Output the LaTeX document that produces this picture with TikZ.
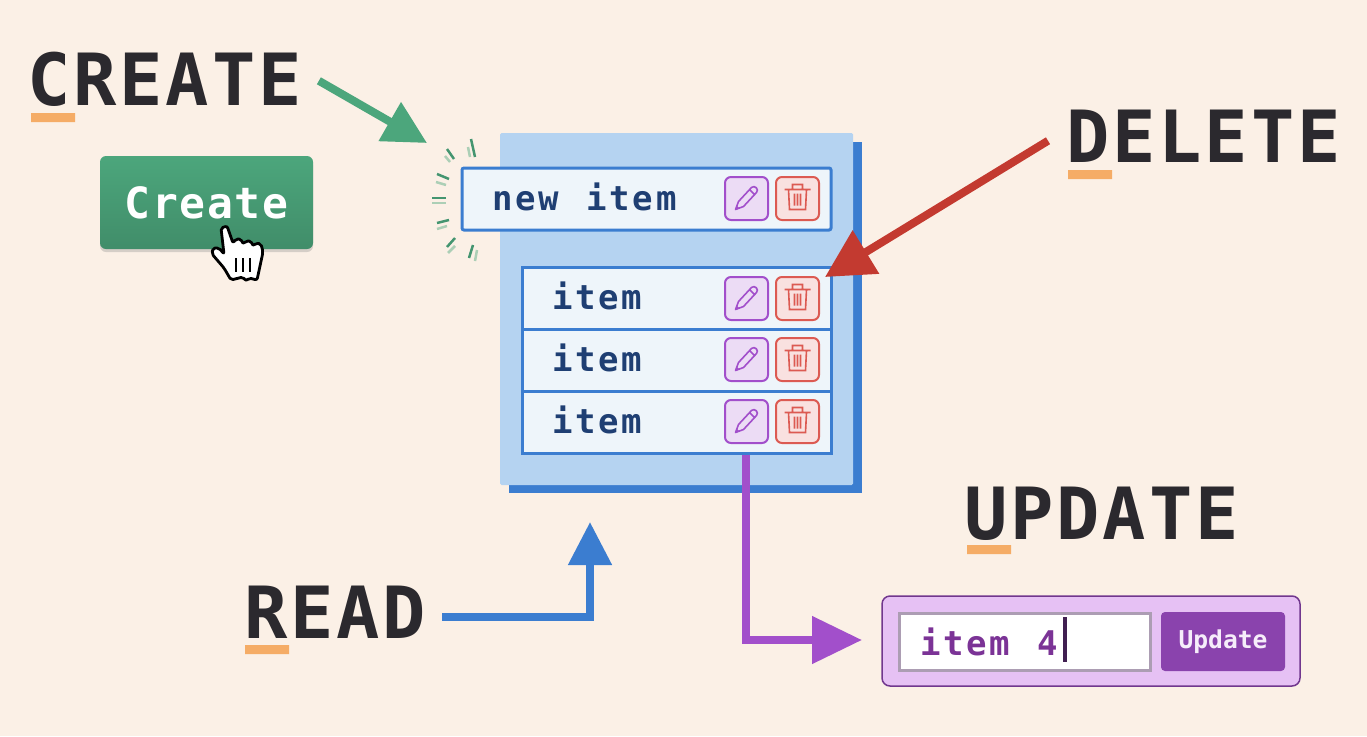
\documentclass[tikz,border=0pt]{standalone}
\usepackage{fontspec}
\usepackage{tikz}
\usetikzlibrary{arrows.meta,shadows}
\setmonofont{DejaVu Sans Mono}
\newfontfamily\headfont[LetterSpace=4]{DejaVu Sans Mono}
\newfontfamily\itemfont[LetterSpace=8.3]{DejaVu Sans Mono}
\newcommand{\fsize}[1]{\fontsize{#1}{#1}\selectfont}
\definecolor{paper}{HTML}{FBF0E6}
\definecolor{ink}{HTML}{2B292E}
\definecolor{barorange}{HTML}{F5AC66}
\definecolor{greenc}{HTML}{4CA67C}
\definecolor{bluec}{HTML}{3B7DD0}
\definecolor{panelc}{HTML}{B5D3F1}
\definecolor{rowc}{HTML}{EEF5FA}
\definecolor{navyc}{HTML}{1F3F73}
\definecolor{purplec}{HTML}{A24FCB}
\definecolor{redc}{HTML}{C33A30}
\definecolor{trashc}{HTML}{DC5A52}
\definecolor{lilacc}{HTML}{E6C1F4}
\definecolor{plumc}{HTML}{7B3396}
\tikzset{
    headlbl/.style={anchor=base west,inner sep=0pt,text=ink,font=\headfont\bfseries\fsize{72}},
    underbar/.style={fill=barorange},
    itemrow/.style={draw=bluec,fill=rowc,line width=3pt,inner ysep=0pt,inner xsep=30pt,
        text width=249pt,text depth=4pt,minimum height=62pt,text=navyc,font=\itemfont\bfseries\fsize{34}},
    thickarrow/.style={line width=8pt},
    pencilicon/.pic={
        \draw[draw=purplec,fill=purplec!20,line width=2pt,rounded corners=6pt] (-21.5,-21.5) rectangle (21.5,21.5);
        \draw[draw=purplec,line width=1.6pt,line join=round] (-11,11) -- (-8,3) -- (5,-11)
            .. controls (8,-14) and (13,-9) .. (10,-6) -- (-3,8) -- cycle (3,-9) -- (8,-4);
        \fill[purplec] (-11,11) -- (-10,7) -- (-7,10) -- cycle;
    },
    trashicon/.pic={
        \draw[draw=trashc,fill=trashc!18,line width=2pt,rounded corners=6pt] (-21.5,-21.5) rectangle (21.5,21.5);
        \draw[draw=trashc,line width=1.6pt] (-13,-9) -- (13,-9) (-5,-9) -- (-5,-14) -- (5,-14) -- (5,-9)
            (-9,-9) -- (-8,11) -- (8,11) -- (9,-9) (-3,-5) -- (-3,7) (0,-5) -- (0,7) (3,-5) -- (3,7);
    },
}
\begin{document}
\begin{tikzpicture}[x=1pt,y=-1pt]
    \useasboundingbox (0,0) rectangle (1367,736);
    \fill[paper] (0,0) rectangle (1367,736);
    \node[headlbl] (createlbl) at (27,105) {CREATE};
    \node[headlbl] (deletelbl) at (1066,162) {DELETE};
    \node[headlbl] (updatelbl) at (964,539) {UPDATE};
    \node[headlbl] (readlbl) at (244,638) {READ};
    \fill[underbar] (31,113) rectangle (75,122) (1068,170) rectangle (1112,179)
    (967,545) rectangle (1011,554) (245,645) rectangle (289,654);
    \node[minimum width=213pt,minimum height=93pt,inner sep=0pt,rounded corners=6pt,
        top color=greenc,bottom color=greenc!85!black,text=white,
        drop shadow={shadow xshift=0pt,shadow yshift=-3pt,opacity=.3},
        font=\headfont\bfseries\fsize{43}] (createbtn) at (206.5,202.5) {Create};
    \draw[black,fill=white,line width=2.8pt,line join=round,rounded corners=2pt]
    (221,228) -- (227,226) -- (233,243) -- (236,239) -- (241,239) -- (243,244) -- (246,241) -- (251,241)
    -- (253,246) -- (256,243) -- (261,244) -- (263,252) -- (257,280) -- (249,278) -- (246,281) -- (243,277)
    -- (231,280) -- (224,268) -- (212,254) -- (213,248) -- (219,248) -- (224,254) -- cycle;
    \draw[black,line width=1.8pt] (236,258) -- (236,272) (243,258) -- (243,272) (250,258) -- (250,272);
    \foreach \xa/\ya/\xb/\yb in {471/139/475/157,447/149/454/159,437/174/449/179,432/198/446/198,
        437/223/449/220,447/247/455/238,469/258/473/245}
        \draw[greenc!90!black,line width=2.5pt] (\xa,\ya) -- (\xb,\yb);
    \foreach \xa/\ya/\xb/\yb in {468/147/470/157,445/156/450/162,436/182/446/185,432/203/446/203,
        437/229/447/226,448/253/455/246,475/261/477/250}
        \draw[greenc!45!paper,line width=2.5pt] (\xa,\ya) -- (\xb,\yb);
    \fill[bluec] (509,142) rectangle (862,493);
    \fill[panelc,rounded corners=1.5pt] (500,133) rectangle (853,485);
    \node[itemrow,text width=309pt,rounded corners=2pt] (newitem) at (646.5,199) {new\hspace{16pt} item};
    \node[itemrow] (item1) at (676.5,298) {item};
    \node[itemrow] (item2) at (676.5,360) {item};
    \node[itemrow] (item3) at (676.5,422) {item};
    \foreach \yi in {198.5,298.5,359.5,421.5} {
        \pic at (746.5,\yi) {pencilicon};
        \pic at (797.5,\yi) {trashicon};
    }
    \coordinate (createtip) at (427,143);
    \coordinate (deletetip) at (825,277);
    \coordinate (readtip) at (590,522);
    \coordinate (updatetip) at (862,640);
    \draw[thickarrow,greenc,-{Triangle[length=43pt,width=43pt]}] ([xshift=17pt,yshift=-2pt]createlbl.east) -- (createtip);
    \draw[thickarrow,redc,-{Triangle[length=48pt,width=49pt]}] ([xshift=-18pt,yshift=-5pt]deletelbl.west) -- (deletetip);
    \draw[thickarrow,bluec,-{Triangle[length=43pt,width=42pt]}] ([xshift=16pt,yshift=-5pt]readlbl.east) -| (readtip);
    \draw[thickarrow,purplec,-{Triangle[length=50pt,width=46pt]}] ([xshift=69pt]item3.south) |- (updatetip);
    \node[draw=purplec!70!black,fill=lilacc,line width=1.5pt,rounded corners=8pt,
        minimum width=418pt,minimum height=90pt,inner sep=0pt] (updatepanel) at (1091,641) {};
    \node[draw=purplec!25!gray!70,fill=white,line width=3pt,text=plumc,inner xsep=21pt,inner ysep=0pt,
        text width=209pt,minimum height=57pt,font=\itemfont\bfseries\fsize{34}] (itembox) at (1024.5,641.5) {item\hspace{16pt} 4};
    \draw[purplec!40!black,line width=3.5pt] (1065,617) -- (1065,662);
    \node[fill=purplec!85!black,rounded corners=4pt,minimum width=124pt,minimum height=59pt,inner sep=0pt,
        text=white!90!purplec,font=\ttfamily\bfseries\fsize{24.6}] (updatebtn) at (1223,641.5) {Update};
\end{tikzpicture}
\end{document}
